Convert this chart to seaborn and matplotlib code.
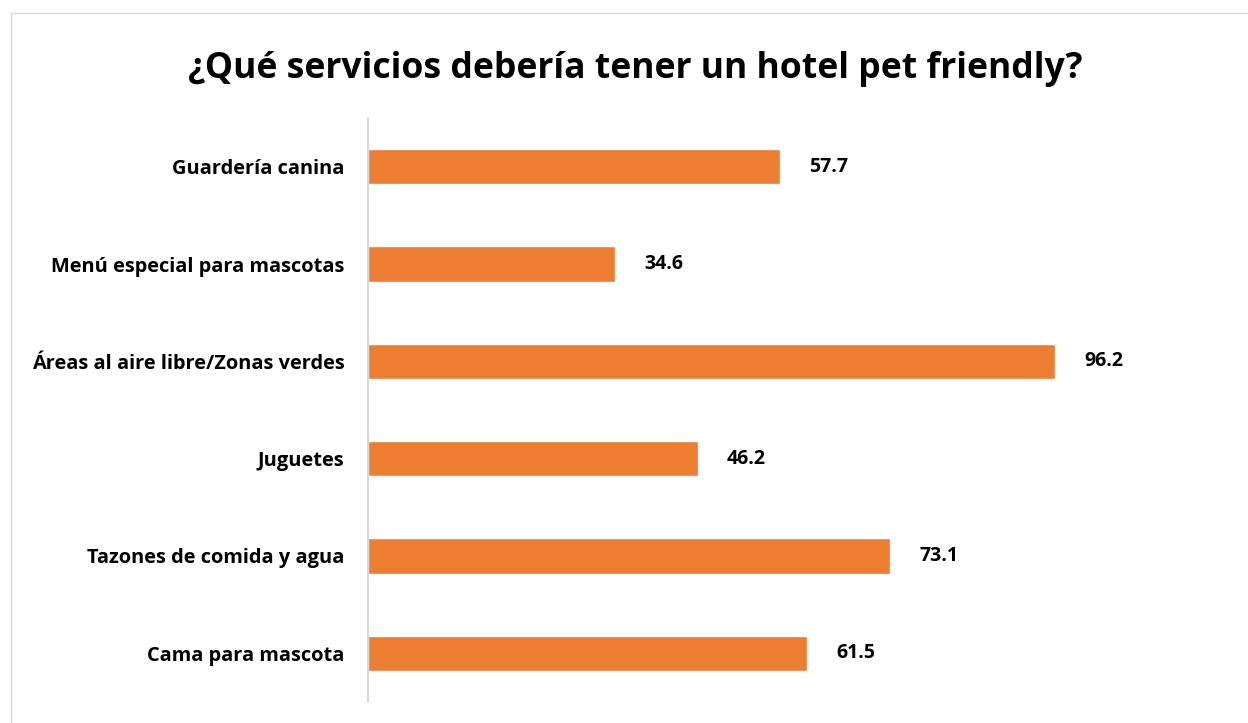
import pandas as pd
import seaborn as sns
import matplotlib.pyplot as plt
from matplotlib.lines import Line2D

# Chart data
services = ['Guardería canina', 'Menú especial para mascotas', 'Áreas al aire libre/Zonas verdes',
            'Juguetes', 'Tazones de comida y agua', 'Cama para mascota']
percent = [57.7, 34.6, 96.2, 46.2, 73.1, 61.5]

data = pd.DataFrame({'servicio': services, 'porcentaje': percent})

sns.set_style('white')
plt.rcParams['font.family'] = ['Open Sans', 'DejaVu Sans']
plt.rcParams['text.color'] = 'black'
plt.rcParams['ytick.color'] = 'black'

fig = plt.figure(figsize=(12.48, 7.23), dpi=100)
ax = fig.add_axes([368 / 1248, 1 - 702 / 723, (1225 - 368) / 1248, (702 - 118) / 723])

sns.barplot(data=data, y='servicio', x='porcentaje', orient='h', color='#ED7D31',
            saturation=1, width=0.36, ax=ax)

# value labels at end of bars
ax.bar_label(ax.containers[0], fmt='%.1f', padding=21, fontsize=14, fontweight='bold')

ax.set_xlim(0, 120)
ax.set_ylim(5.5, -0.5)
ax.set_xlabel('')
ax.set_ylabel('')
ax.set_xticks([])
ax.tick_params(axis='y', length=0, pad=17)
for lbl in ax.get_yticklabels():
    lbl.set_fontsize(14.4)
    lbl.set_fontweight('bold')

for side in ['top', 'right', 'bottom']:
    ax.spines[side].set_visible(False)
ax.spines['left'].set_color('#d0d0d0')
ax.spines['left'].set_linewidth(1.2)

fig.suptitle('¿Qué servicios debería tener un hotel pet friendly?', x=635 / 1248, y=1 - 69 / 723,
             va='center', fontsize=25.6, fontweight='bold')

# light chart frame (top and left edges visible)
fig.add_artist(Line2D([11 / 1248, 11 / 1248], [0, 1 - 13 / 723], transform=fig.transFigure,
                      color='#d9d9d9', lw=1))
fig.add_artist(Line2D([11 / 1248, 1], [1 - 13 / 723, 1 - 13 / 723], transform=fig.transFigure,
                      color='#d9d9d9', lw=1))

fig.savefig('out.png', dpi=100)
